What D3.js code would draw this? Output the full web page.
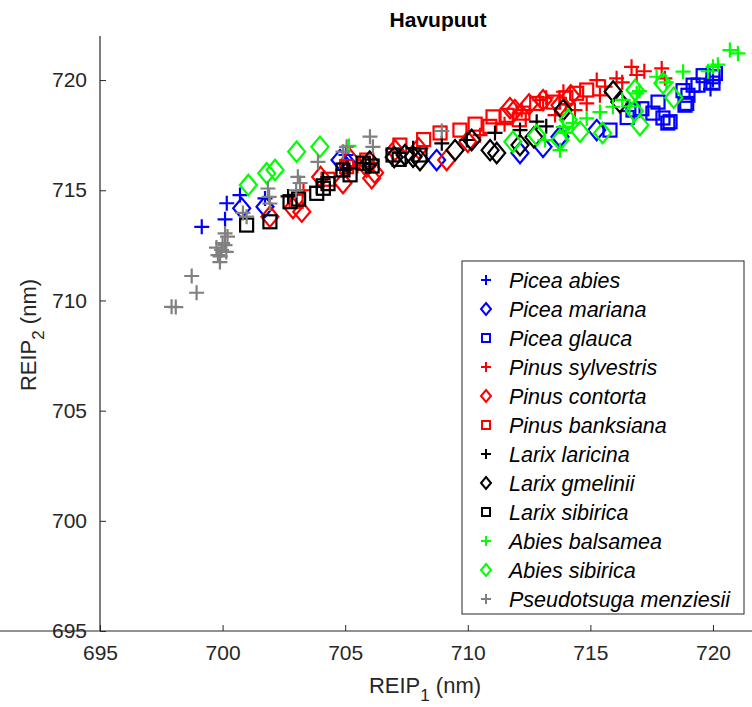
<!DOCTYPE html>
<html><head><meta charset="utf-8">
<script src="https://cdn.jsdelivr.net/npm/d3@7"></script>
<style>body{margin:0;background:#fff;} text{font-family:Arial,"Liberation Sans",sans-serif;}</style>
</head><body>
<script>
const xTicks = [695, 700, 705, 710, 715, 720];
const yTicks = [695, 700, 705, 710, 715, 720];

const piceaAbies = [[699.15,713.34],[700.17,714.41],[700.10,713.68],[700.71,714.78],[701.73,714.63],[705.03,716.60],[719.9,719.6],[720.0,720.0]];
const piceaMariana = [[700.78,714.18],[701.73,714.25],[704.79,716.37],[708.73,716.37],[712.13,716.69],[713.07,716.97],[713.76,717.43],[715.26,717.73],[705.1,716.2]];
const piceaGlauca = [[715.80,717.73],[716.74,718.64],[717.55,718.50],[717.96,718.28],[718.16,718.05],[718.25,718.11],[717.76,719.00],[718.86,718.86],[718.98,719.31],[718.93,718.94],[718.78,719.52],[719.19,719.77],[719.39,719.77],[720.00,719.86],[720.00,720.15],[717.1,718.7],[719.6,720.2],[720.1,720.3],[716.5,718.3]];
const pinusSylvestris = [[712.20,718.64],[712.94,719.09],[713.90,719.47],[714.85,718.94],[715.26,720.00],[716.07,720.08],[716.68,720.60],[716.89,720.23],[717.91,720.53],[718.04,720.08],[715.39,719.31],[714.37,718.64],[713.56,718.41],[713.2,719.2],[714.0,718.9],[715.6,719.7],[716.3,719.9],[717.2,720.4],[710.5,717.5],[711.5,718.0],[705.5,716.1],[703.3,715.0]];
const pinusContorta = [[701.93,713.80],[702.87,714.19],[703.23,714.03],[704.91,715.33],[706.08,715.55],[705.87,716.07],[707.03,716.82],[709.14,716.37],[711.72,718.73],[711.92,718.64],[713.07,719.09],[713.76,718.86],[712.5,718.9],[714.2,719.3],[704.0,715.6],[706.2,715.8],[710.0,717.2],[705.2,716.4],[708.0,716.9]];
const pinusBanksiana = [[705.06,716.07],[705.88,716.37],[708.87,717.60],[709.68,717.73],[711.03,718.33],[712.25,718.50],[712.81,718.94],[714.44,719.40],[714.85,719.55],[707.23,717.05],[710.3,718.0],[711.6,718.4],[713.5,719.0],[714.0,719.2],[704.3,715.5],[703.0,714.5],[710.9,717.9],[712.1,718.2],[708.2,717.3]];
const larixLaricina = [[702.67,714.72],[703.84,715.16],[704.91,715.92],[705.73,716.23],[707.77,716.91],[708.94,717.13],[709.96,717.28],[711.11,717.60],[712.81,718.11],[712.13,717.73],[704.1,715.5],[705.1,716.0],[706.0,716.2],[713.2,717.9]];
const larixGmelinii = [[707.44,716.60],[707.77,716.52],[708.05,716.37],[710.16,717.28],[710.91,716.82],[711.18,716.69],[712.13,717.05],[713.89,718.64],[715.93,719.48],[709.48,716.82],[712.7,717.4],[716.2,719.0],[707.0,716.5],[706.0,716.3]];
const larixSibirica = [[700.98,713.42],[701.93,713.57],[702.75,714.48],[703.84,714.86],[704.11,715.09],[704.91,715.92],[705.73,716.23],[706.95,716.60],[708.05,716.60],[705.2,715.7],[703.1,714.6],[707.2,716.4],[706.1,716.1],[704.3,715.3]];
const abiesBalsamea = [[705.15,717.01],[713.76,716.82],[713.89,717.88],[714.29,718.05],[714.85,718.26],[715.92,718.79],[716.89,719.40],[717.70,720.15],[718.78,720.38],[720.00,720.60],[720.69,721.36],[721.02,721.21],[715.39,718.55],[713.15,717.28],[716.3,719.1],[717.0,719.5],[718.1,719.9],[719.8,720.4],[720.2,720.7],[714.0,717.6],[716.6,718.8]];
const abiesSibirica = [[701.05,715.24],[701.80,715.77],[702.14,715.92],[703.02,716.75],[703.97,716.97],[711.84,717.20],[712.81,717.50],[714.58,717.65],[717.02,717.96],[717.96,719.86],[716.82,719.55],[713.76,717.28],[715.5,717.6],[716.8,718.6],[718.4,719.2],[714.1,718.2]];
const pseudotsuga = [[697.92,709.71],[698.09,709.70],[698.74,711.11],[698.94,710.35],[699.96,712.29],[699.81,712.06],[700.10,712.51],[699.89,711.74],[700.10,713.04],[700.83,713.97],[700.98,713.80],[701.85,715.08],[701.93,714.40],[703.07,715.61],[703.16,715.33],[703.89,716.29],[704.91,716.75],[705.06,716.97],[706.01,717.43],[706.13,716.97],[708.94,717.69],[699.9,712.0],[700.0,712.6],[700.15,712.2],[699.75,712.4],[700.2,712.9],[701.9,714.7],[703.0,715.0]];

const seriesNames = ["Picea abies","Picea mariana","Picea glauca","Pinus sylvestris","Pinus contorta","Pinus banksiana","Larix laricina","Larix gmelinii","Larix sibirica","Abies balsamea","Abies sibirica","Pseudotsuga menziesii"];
const seriesData = [piceaAbies,piceaMariana,piceaGlauca,pinusSylvestris,pinusContorta,pinusBanksiana,larixLaricina,larixGmelinii,larixSibirica,abiesBalsamea,abiesSibirica,pseudotsuga];
const seriesColors = ["#0000ff","#0000ff","#0000ff","#ff0000","#ff0000","#ff0000","#000000","#000000","#000000","#00ff00","#00ff00","#808080"];
const seriesMarkers = ["plus","diamond","square","plus","diamond","square","plus","diamond","square","plus","diamond","plus"];

const W = 752, H = 707;
const svg = d3.select("body").append("svg").attr("width", W).attr("height", H);
const x = d3.scaleLinear().domain([695, 722]).range([100, 762]);
const y = d3.scaleLinear().domain([695, 722]).range([631, 36]);
const axisCol = "#262626";
const FONT = "Arial, 'Liberation Sans', sans-serif";

function marker(g, type, cx, cy, s, col, lw) {
  if (type === "plus") {
    g.append("path").attr("d", `M${cx - s/2},${cy}H${cx + s/2}M${cx},${cy - s/2}V${cy + s/2}`)
      .attr("stroke", col).attr("stroke-width", lw).attr("fill", "none");
  } else if (type === "diamond") {
    const w = s * 0.5, h = s * 0.6;
    g.append("path").attr("d", `M${cx},${cy - h}L${cx + w},${cy}L${cx},${cy + h}L${cx - w},${cy}Z`)
      .attr("stroke", col).attr("stroke-width", lw).attr("fill", "none");
  } else {
    const a = s * 0.5;
    g.append("rect").attr("x", cx - a).attr("y", cy - a).attr("width", 2 * a).attr("height", 2 * a)
      .attr("stroke", col).attr("stroke-width", lw).attr("fill", "none");
  }
}
const plotSize = {plus: 15, diamond: 17, square: 13};
const legSize = {plus: 10, diamond: 10, square: 8};

svg.append("clipPath").attr("id", "clip").append("rect").attr("x", 100).attr("y", 30).attr("width", 660).attr("height", 610);
const plot = svg.append("g").attr("clip-path", "url(#clip)");
seriesData.forEach((data, i) => {
  const g = plot.append("g");
  data.forEach(d => marker(g, seriesMarkers[i], x(d[0]), y(d[1]), plotSize[seriesMarkers[i]], seriesColors[i], 2.2));
});

const xAxis = svg.append("g").attr("transform", "translate(0,631)")
  .call(d3.axisBottom(x).tickValues(xTicks).tickSizeInner(-6).tickSizeOuter(0).tickPadding(14));
const yAxis = svg.append("g").attr("transform", "translate(100,0)")
  .call(d3.axisLeft(y).tickValues(yTicks).tickSizeInner(-6).tickSizeOuter(0).tickPadding(13));
[xAxis, yAxis].forEach(a => {
  a.select(".domain").attr("stroke", axisCol).attr("stroke-width", 1.2);
  a.selectAll(".tick line").attr("stroke", axisCol);
  a.selectAll(".tick text").attr("fill", axisCol).style("font-size", "21px").style("font-family", FONT);
});
xAxis.select(".domain").attr("d", `M0,0H${W}`);
yAxis.select(".domain").attr("d", `M0,${y(695)}V36`);

svg.append("text").attr("x", 438).attr("y", 27).attr("text-anchor", "middle")
  .style("font-size", "21px").style("font-weight", "bold").attr("fill", "#000").text("Havupuut");

const xl = svg.append("text").attr("x", 425).attr("y", 693).attr("text-anchor", "middle")
  .style("font-size", "22px").attr("fill", axisCol);
xl.append("tspan").text("REIP");
xl.append("tspan").attr("dy", 8).style("font-size", "17px").text("1");
xl.append("tspan").attr("dy", -8).text(" (nm)");

const yl = svg.append("text").attr("transform", "translate(36,335) rotate(-90)").attr("text-anchor", "middle")
  .style("font-size", "22px").attr("fill", axisCol);
yl.append("tspan").text("REIP");
yl.append("tspan").attr("dy", 8).style("font-size", "17px").text("2");
yl.append("tspan").attr("dy", -8).text(" (nm)");

const lg = svg.append("g");
lg.append("rect").attr("x", 462).attr("y", 261).attr("width", 282).attr("height", 353)
  .attr("fill", "#fff").attr("stroke", axisCol).attr("stroke-width", 1);
seriesNames.forEach((n, i) => {
  const cy = 280 + i * 29;
  marker(lg, seriesMarkers[i], 486, cy, legSize[seriesMarkers[i]], seriesColors[i], 2);
  lg.append("text").attr("x", 509).attr("y", cy + 7.5).style("font-size", "21.5px").style("font-style", "italic")
    .attr("fill", "#000").text(n);
});
</script>
</body></html>
